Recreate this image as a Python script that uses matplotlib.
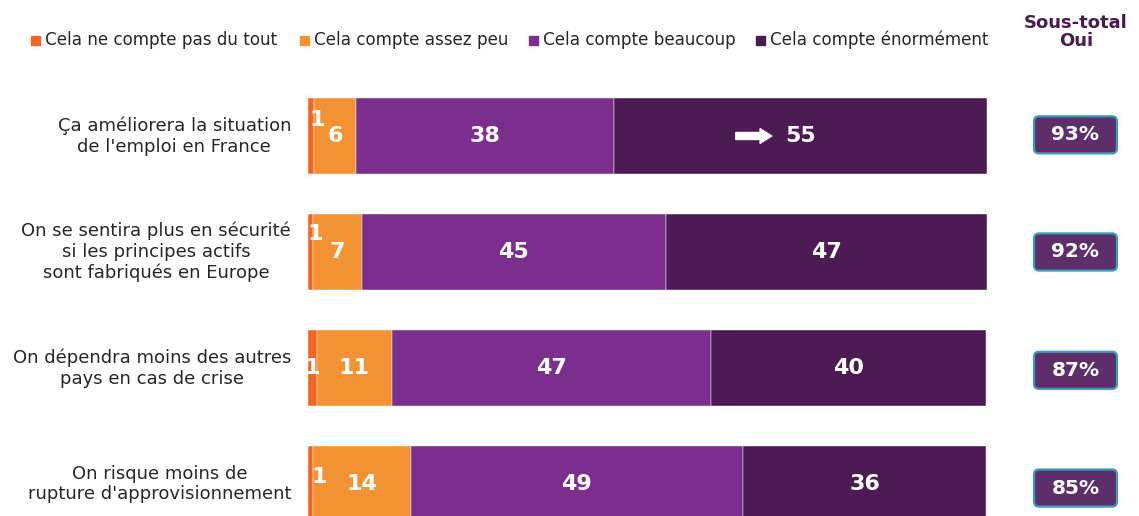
import matplotlib
matplotlib.use("Agg")
import matplotlib.pyplot as plt
from matplotlib.patches import Rectangle, FancyBboxPatch
import numpy as np

# ---------------- data ----------------
categories = [
    "Ça améliorera la situation\nde l'emploi en France",
    "On se sentira plus en sécurité\nsi les principes actifs\nsont fabriqués en Europe",
    "On dépendra moins des autres\npays en cas de crise",
    "On risque moins de\nrupture d'approvisionnement",
]
series_names = ["Cela ne compte pas du tout", "Cela compte assez peu",
                "Cela compte beaucoup", "Cela compte énormément"]
pas_du_tout = [0.9, 0.7, 1.3, 0.7]
assez_peu = [6.2, 7.2, 11.0, 14.4]
beaucoup = [38.0, 44.8, 47.1, 49.0]
enormement = [54.9, 47.3, 40.5, 35.8]
sous_total_oui = [93, 92, 87, 85]

# ---------------- style ----------------
colors = ["#F26522", "#F39232", "#7B2E8E", "#4C1B54"]
box_fc = "#5E2E6A"
box_ec = "#3A9FB2"
title_col = "#4A1A50"
text_col = "#262626"

W, H = 1139, 516
fig = plt.figure(figsize=(W / 100, H / 100), dpi=100)


def fx(px):
    return px / W


def fy(py):
    return 1 - py / H


ax_top_px = 78
ylo, yhi = 3.276, -0.5
ax = fig.add_axes([fx(308), 0, 679 / W, (H - ax_top_px) / H])
ax.set_xlim(0, 100)
ax.set_ylim(ylo, yhi)
ax.axis("off")

vals = np.array([pas_du_tout, assez_peu, beaucoup, enormement]).T
ypos = np.arange(len(categories))
left = np.zeros(len(categories))
bar_h = 0.66

# label offsets in pixels for the small first segment
red_offsets = [(6, 16), (5, 18), (0, 0), (9, 7)]

for j in range(4):
    ax.barh(ypos, vals[:, j], left=left, height=bar_h, color=colors[j],
            edgecolor="white", linewidth=0.3)
    for i in range(len(categories)):
        xc = left[i] + vals[i, j] / 2
        off = red_offsets[i] if j == 0 else (0, 0)
        ax.annotate(f"{int(round(vals[i, j]))}", xy=(xc, ypos[i]),
                    xytext=off, textcoords="offset pixels",
                    ha="center", va="center", color="white",
                    fontsize=16, fontweight="bold", annotation_clip=False,
                    clip_on=True)
    left = left + vals[:, j]

# arrow in the first row, dark segment
seg_start = vals[0, 0] + vals[0, 1] + vals[0, 2]
ax.annotate("", xy=(seg_start + 23.2, 0), xytext=(seg_start + 17.9, 0),
            arrowprops=dict(arrowstyle="simple,head_length=0.6,head_width=0.75,tail_width=0.36",
                            fc="white", ec="white", mutation_scale=14,
                            shrinkA=0, shrinkB=0))

for i, cat in enumerate(categories):
    ax.text(-2.5, ypos[i], cat, ha="right", va="center", multialignment="center",
            fontsize=13, color=text_col)

# right column: subtotal boxes
ax2 = fig.add_axes([fx(1034), 0, 83 / W, (H - ax_top_px) / H])
ax2.set_xlim(0, 1)
ax2.set_ylim(ylo, yhi)
ax2.axis("off")
box_h = 0.32
box_shift = [-0.01, 0.0, 0.02, 0.035]
for i, v in enumerate(sous_total_oui):
    yc = ypos[i] + box_shift[i]
    p = FancyBboxPatch((0.0, yc - box_h / 2), 1.0, box_h,
                       boxstyle="round,pad=0,rounding_size=0.06",
                       mutation_aspect=0.716, fc=box_fc, ec=box_ec, lw=1.6,
                       clip_on=False)
    ax2.add_patch(p)
    ax2.text(0.5, yc, f"{v}%", ha="center", va="center", color="white",
             fontsize=14.5, fontweight="bold")

fig.text(fx(1076), fy(32), "Sous-total\nOui", ha="center", va="center",
         fontsize=13, fontweight="bold", color=title_col, linespacing=1.05)

# legend
sq_x = [31, 300, 529, 756]
for k, name in enumerate(series_names):
    fig.patches.append(Rectangle((fx(sq_x[k]), fy(45)), 9 / W, 9 / H,
                                 transform=fig.transFigure, color=colors[k]))
    fig.text(fx(sq_x[k] + 14), fy(40), name, ha="left", va="center",
             fontsize=12.1, color=text_col)

fig.savefig("out.png", dpi=100)
